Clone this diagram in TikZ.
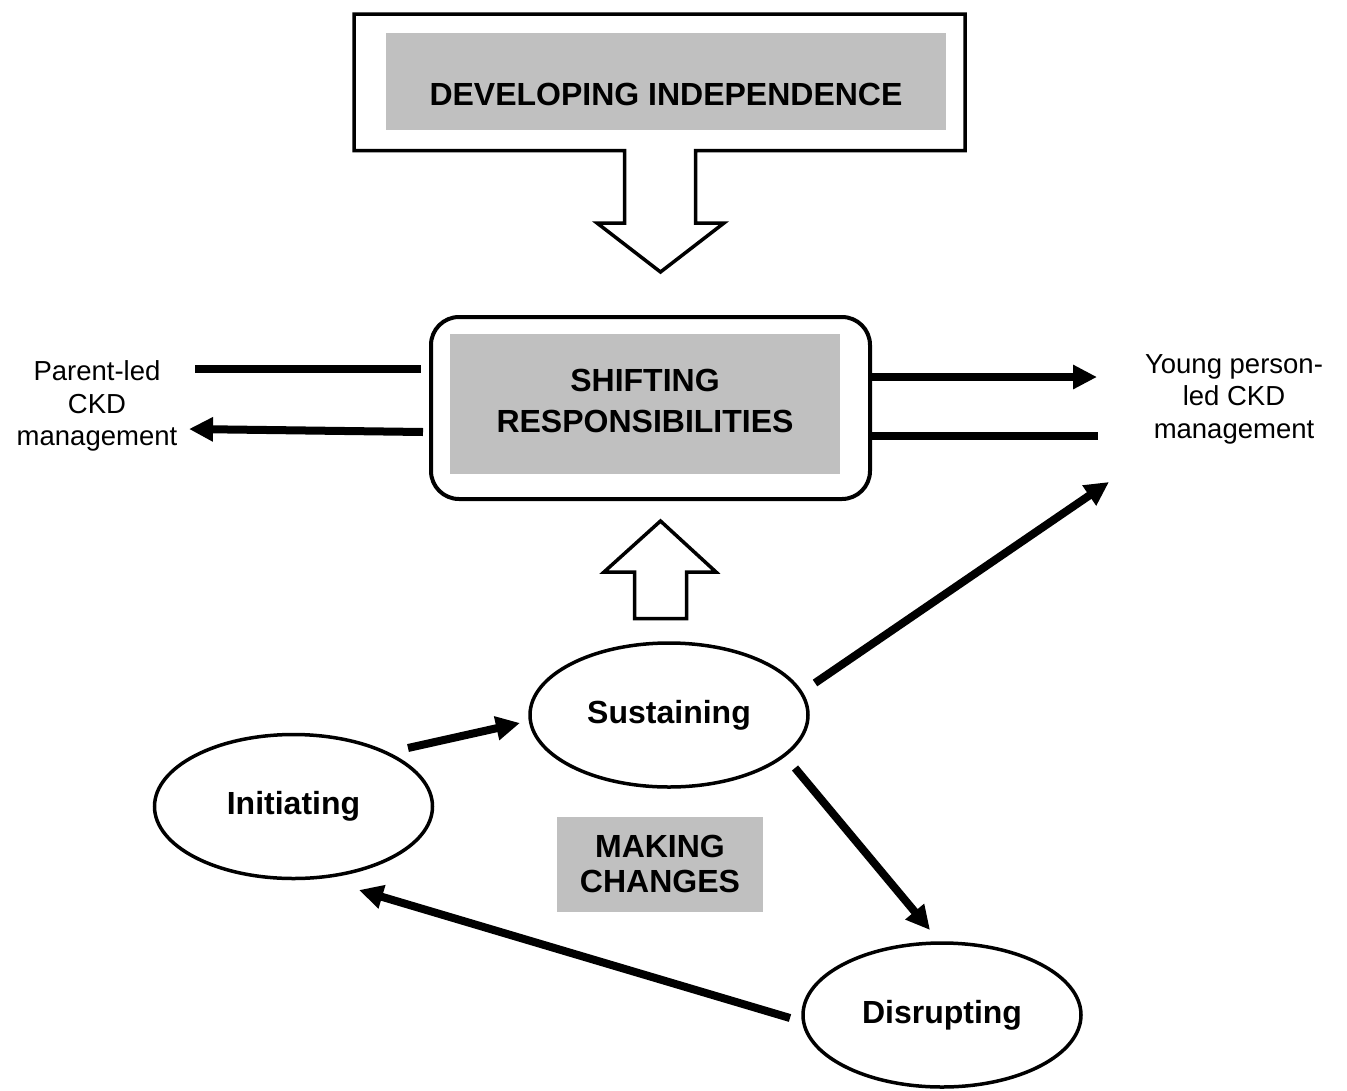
\documentclass[tikz,border=0pt]{standalone}
\usepackage{fontspec}
\setmainfont{Liberation Sans}
\usetikzlibrary{arrows.meta,shapes.geometric,calc}
\definecolor{panelgray}{RGB}{192,192,192}
\begin{document}
\begin{tikzpicture}[x=1pt,y=-1pt,
  conn/.style={line width=8pt},
  arr/.style={conn,-{Triangle[length=24pt,width=23pt]}},
  stage/.style={ellipse,draw,line width=3.5pt,minimum width=278pt,minimum height=144pt,
    inner sep=0pt,outer sep=0pt,font=\fontsize{32}{36}\selectfont\bfseries},
  graybox/.style={fill=panelgray,inner sep=0pt,outer sep=0pt,align=center},
  boldtext/.style={inner sep=0pt,align=center,font=\fontsize{32}{36}\selectfont\bfseries},
  sidetext/.style={align=center,inner sep=0pt,font=\fontsize{27.5}{32.5}\selectfont},
  blockarrow/.style={draw,line width=3.5pt,fill=white,line join=miter}
]
\fill[white] (0,0) rectangle (1347,1090);
\useasboundingbox (0,0) rectangle (1347,1090);

% top callout with its downward arrow
\draw[blockarrow] (354,14) -- (965,14) -- (965,150.5) -- (695.5,150.5) -- (695.5,223)
  -- (724,223) -- (660.5,272) -- (597,223) -- (624.5,223) -- (624.5,150.5)
  -- (354,150.5) -- cycle;
\node[graybox,minimum width=560pt,minimum height=97pt] (devbox) at (666,81.5) {};
\node[boldtext] (devtext) at (666,94) {DEVELOPING INDEPENDENCE};

% central box
\node[draw,rounded corners=28pt,line width=4pt,minimum width=439pt,minimum height=182pt,
  outer sep=0pt] (shift) at (650.5,408) {};
\node[graybox,minimum width=390pt,minimum height=140pt] (shiftfill) at (645,404) {};
\node[boldtext,font=\fontsize{32}{41}\selectfont\bfseries] (shifttext) at (645,400.5)
  {SHIFTING\\RESPONSIBILITIES};

% upward block arrow
\draw[blockarrow] (660.5,521) -- (716,572) -- (686.5,572) -- (686.5,618.5)
  -- (634.5,618.5) -- (634.5,572) -- (604,572) -- cycle;

% side labels
\node[sidetext] (parent) at (97,406) {Parent-led\\CKD\\management};
\node[sidetext] (young) at (1234,399) {Young person-\\led CKD\\management};

% stages
\node[stage] (sus) at (669,715) {Sustaining};
\node[stage] (init) at (293.5,806.5) {Initiating};
\node[stage] (disr) at (942,1015) {Disrupting};

\node[graybox,minimum width=206pt,minimum height=95pt,
  font=\fontsize{32}{35}\selectfont\bfseries] (making) at (660,864) {MAKING\\CHANGES};

% connectors to and from the central box
\draw[conn] ($(parent)+(98,-37)$) -- ($(shift)+(-229.5,-39)$);
\draw[arr] ($(shift)+(-227.5,24)$) -- ($(parent)+(92,23)$);
\draw[arr] ($(shift)+(221.5,-31)$) -- ($(young)+(-137,-22)$);
\draw[conn] ($(shift)+(221.5,28)$) -- ($(young)+(-136,37)$);

% cycle of stages
\draw[arr] ($(init)+(114.5,-58.5)$) -- ($(sus)+(-149,8)$);
\draw[arr] ($(sus)+(146,-32)$) -- ($(young)+(-125,83)$);
\draw[arr] ($(sus)+(126,53)$) -- ($(disr)+(-12,-85)$);
\draw[arr] ($(disr)+(-152,3)$) -- ($(init)+(65.5,83.5)$);
\end{tikzpicture}
\end{document}
